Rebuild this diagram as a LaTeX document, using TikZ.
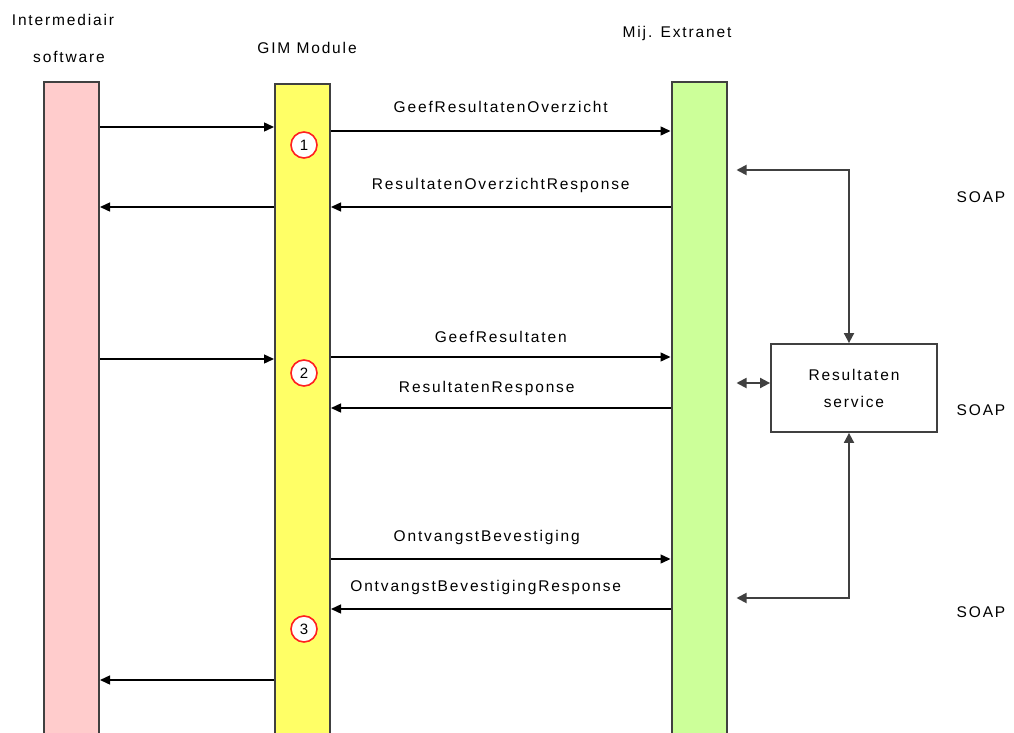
\documentclass[tikz,border=0pt]{standalone}
\usepackage{fontspec}
\setmainfont{Liberation Sans}[LetterSpace=12]
\usetikzlibrary{arrows.meta,positioning}

\definecolor{interpink}{HTML}{FFCCCC}
\definecolor{gimyellow}{HTML}{FFFF66}
\definecolor{extragreen}{HTML}{CCFF99}
\definecolor{barline}{HTML}{404040}
\definecolor{stepred}{HTML}{FF2020}

\tikzset{
  lifeline/.style={draw=barline, line width=2pt, anchor=north,
    minimum width=55pt, minimum height=700pt, inner sep=0pt},
  title/.style={font=\fontsize{15.5}{18}\selectfont, inner sep=0pt},
  lbl/.style={font=\fontsize{15.5}{18}\selectfont, inner sep=0pt},
  msg/.style={-{Triangle[length=10pt,width=9pt]}, line width=1.4pt},
  dbl/.style={{Triangle[length=10pt,width=10pt]}-{Triangle[length=10pt,width=10pt]},
    line width=1.8pt, draw=barline},
  stepno/.style={circle, draw=stepred, fill=white, line width=1.6pt,
    minimum size=26pt, inner sep=0pt, font=\fontsize{15}{17}\selectfont},
  svcbox/.style={draw=barline, line width=1.8pt, minimum width=166pt,
    minimum height=88pt, align=center, font=\fontsize{15.5}{27}\selectfont},
  soap/.style={font=\fontsize{15.5}{18}\selectfont, inner sep=0pt}
}

\begin{document}
\begin{tikzpicture}[x=1pt,y=-1pt]
  \useasboundingbox (0,0) rectangle (1014,733);
  \clip (0,0) rectangle (1014,733);

  % lifelines
  \node[lifeline, fill=interpink] (inter) at (71.5,81) {};
  \node[lifeline, fill=gimyellow] (gim) at (302.5,83) {};
  \node[lifeline, fill=extragreen] (extra) at (699,81) {};

  \node[title] (intertitle) at (63,20) {Intermediair};
  \node[title] (intertitle2) at (69,57) {software};
  \node[title] (gimtitle) at (307,48) {GIM Module};
  \node[title] (extratitle) at (677,33) {Mij. Extranet};

  % message levels
  \coordinate (a1) at (0,127);
  \coordinate (m1) at (0,131);
  \coordinate (r1) at (0,207);
  \coordinate (a2) at (0,359);
  \coordinate (m2) at (0,357);
  \coordinate (r2) at (0,408);
  \coordinate (m3) at (0,559);
  \coordinate (r3) at (0,609);
  \coordinate (a3) at (0,680);

  % round 1
  \draw[msg] (inter.east |- a1) -- (gim.west |- a1);
  \draw[msg] (gim.east |- m1) -- node[lbl, above=18pt] {GeefResultatenOverzicht} (extra.west |- m1);
  \draw[msg] (extra.west |- r1) -- node[lbl, above=14pt] {ResultatenOverzichtResponse} (gim.east |- r1);
  \draw[msg] (gim.west |- r1) -- (inter.east |- r1);
  \node[stepno] (s1) at (304,145) {1};

  % round 2
  \draw[msg] (inter.east |- a2) -- (gim.west |- a2);
  \draw[msg] (gim.east |- m2) -- node[lbl, above=14pt] {GeefResultaten} (extra.west |- m2);
  \draw[msg] (extra.west |- r2) -- node[lbl, above=12pt, xshift=-14pt] {ResultatenResponse} (gim.east |- r2);
  \node[stepno] (s2) at (304,373) {2};

  % round 3
  \draw[msg] (gim.east |- m3) -- node[lbl, above=14pt, xshift=-14pt] {OntvangstBevestiging} (extra.west |- m3);
  \draw[msg] (extra.west |- r3) -- node[lbl, above=14pt, xshift=-15pt] {OntvangstBevestigingResponse} (gim.east |- r3);
  \node[stepno] (s3) at (304,629) {3};
  \draw[msg] (gim.west |- a3) -- (inter.east |- a3);

  % service side
  \node[svcbox] (svc) at (854,388) {Resultaten\\service};
  \coordinate (t1) at (849,170);
  \coordinate (t2) at (0,383);
  \coordinate (t3) at (849,598);
  \draw[dbl, shorten <=9pt] (extra.east |- t1) -- (t1) -- (svc.north -| t1);
  \draw[dbl, shorten <=9pt] (extra.east |- t2) -- (svc.west |- t2);
  \draw[dbl, shorten >=9pt] (svc.south -| t3) -- (t3) -- (extra.east |- t3);

  \node[soap] (soap1) at (981,197) {SOAP};
  \node[soap] (soap2) at (981,410) {SOAP};
  \node[soap] (soap3) at (981,612) {SOAP};
\end{tikzpicture}
\end{document}
